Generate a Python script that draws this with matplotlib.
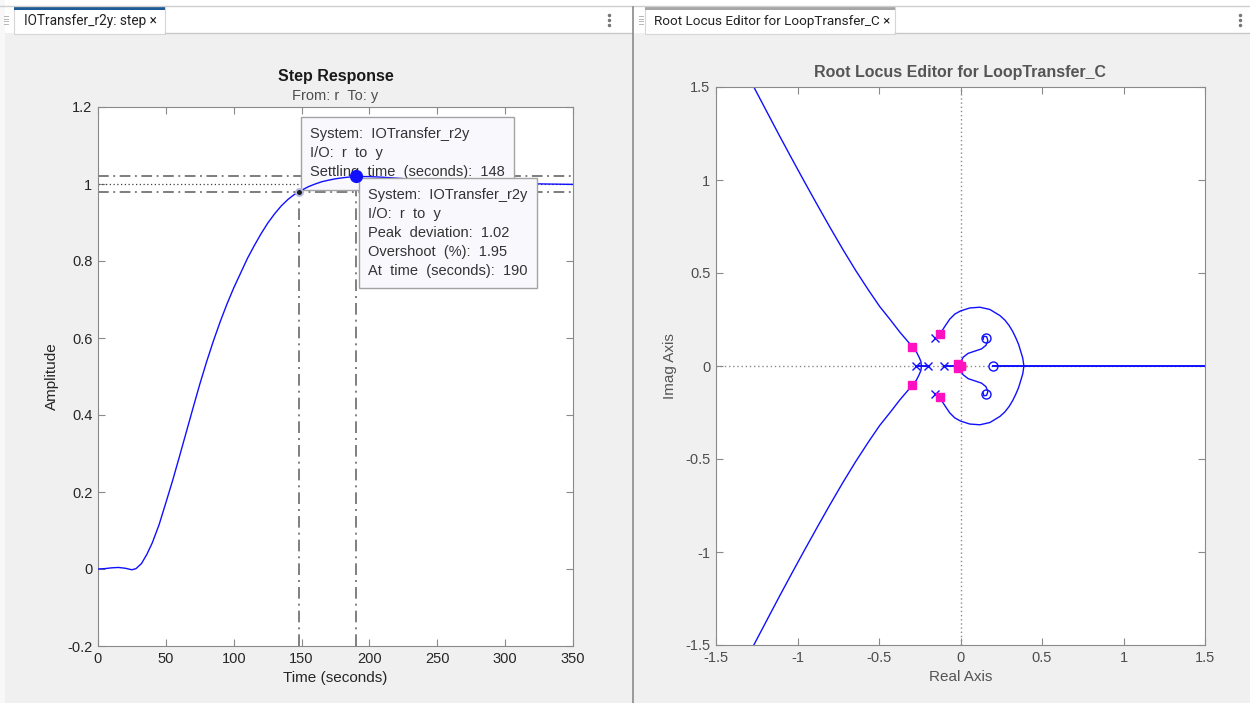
import matplotlib
matplotlib.use("Agg")
import matplotlib.pyplot as plt
from matplotlib.patches import Rectangle
from matplotlib.lines import Line2D
from matplotlib.ticker import FuncFormatter

# ---- step response of IOTransfer_r2y ----
step_t = [0, 5, 10, 15, 20, 25, 28, 32, 36, 40, 45, 50, 55, 60, 65, 70, 75,
          80, 85, 90, 95, 100, 105, 110, 115, 120, 125, 130, 135, 140, 144,
          148, 155, 160, 165, 170, 175, 180, 185, 190, 200, 210, 225, 240,
          270, 300, 330, 350]
step_y = [0.0, 0.001, 0.003, 0.004, 0.002, -0.002, 0.001, 0.014, 0.038,
          0.068, 0.115, 0.172, 0.230, 0.292, 0.355, 0.418, 0.480, 0.538,
          0.592, 0.642, 0.688, 0.730, 0.768, 0.806, 0.839, 0.870, 0.898,
          0.922, 0.943, 0.960, 0.971, 0.980, 0.993, 1.000, 1.006, 1.010,
          1.0135, 1.016, 1.018, 1.0195, 1.0192, 1.0175, 1.014, 1.010, 1.005,
          1.002, 1.000, 0.999]
settle_time, settle_amp = 148, 0.98
peak_time, peak_amp = 190, 1.0195
overshoot = 1.95
band_hi, band_lo, final_value = 1.02, 0.98, 1.0

# ---- root locus of LoopTransfer_C ----
# upper asymptotic branch (mirrored for the lower half)
asym_re = [-0.240, -0.243, -0.254, -0.270, -0.295, -0.333, -0.373, -0.432,
           -0.496, -0.566, -0.644, -0.724, -0.803, -0.881, -0.959, -1.035,
           -1.110, -1.190, -1.268]
asym_im = [0.0, 0.025, 0.047, 0.075, 0.103, 0.142, 0.183, 0.250, 0.320,
           0.410, 0.515, 0.630, 0.749, 0.870, 0.993, 1.115, 1.237, 1.370, 1.5]
# loop leaving the complex poles and closing on the real axis
loop_re = [-0.156, -0.127, -0.096, -0.066, -0.035, 0.0, 0.057, 0.119, 0.180,
           0.242, 0.272, 0.298, 0.320, 0.339, 0.356, 0.369, 0.382, 0.389]
loop_im = [0.148, 0.170, 0.213, 0.252, 0.279, 0.296, 0.312, 0.316, 0.304,
           0.271, 0.247, 0.218, 0.186, 0.152, 0.117, 0.080, 0.042, 0.0]
# branch from the origin into the complex zeros
hook_re = [0.0, 0.016, 0.047, 0.088, 0.129, 0.156, 0.168, 0.160, 0.143, 0.139]
hook_im = [0.018, 0.047, 0.068, 0.080, 0.092, 0.111, 0.137, 0.158, 0.160, 0.144]
# real-axis segments of the locus
real_segments = [(-0.274, -0.199), (-0.100, 0.0), (0.197, 1.5)]

pole_re = [-0.274, -0.199, -0.100, -0.156, -0.156]
pole_im = [0.0, 0.0, 0.0, 0.148, -0.148]
zero_re = [0.197, 0.154, 0.154]
zero_im = [0.0, 0.148, -0.148]
cl_re = [-0.295, -0.295, -0.127, -0.127, -0.015, -0.015, 0.0]
cl_im = [0.103, -0.101, 0.170, -0.166, 0.012, -0.012, 0.0]

W, H = 1250, 703
BLUE = "#1010ff"

plt.rcParams["font.family"] = ["Liberation Sans", "DejaVu Sans"]

fig = plt.figure(figsize=(W / 100, H / 100), dpi=100)
fig.patch.set_facecolor("#f0f0f0")


def fig_rect(x0, y0, x1, y1, **kw):
    r = Rectangle((x0 / W, 1 - y1 / H), (x1 - x0) / W, (y1 - y0) / H,
                  transform=fig.transFigure, **kw)
    fig.add_artist(r)
    return r


def fig_line(xs, ys, **kw):
    fig.add_artist(Line2D([x / W for x in xs], [1 - y / H for y in ys],
                          transform=fig.transFigure, **kw))


# document tab strip
fig_rect(0, 0, W, 33, facecolor="white", edgecolor="none")
fig_rect(0, 0, 5, H, facecolor="#f8f8f8", edgecolor="none")
fig_line([0, W], [6, 6], color="#cfcfcf", lw=1)
fig_line([165, 632], [33, 33], color="#c8c8c8", lw=1)
fig_line([895, W], [33, 33], color="#c8c8c8", lw=1)
fig_rect(14, 7, 165, 34, facecolor="white", edgecolor="#d6d6d6", lw=0.8)
fig_rect(14, 7, 165, 10, facecolor="#1f5b96", edgecolor="none")
fig_rect(645, 7, 895, 34, facecolor="white", edgecolor="#d6d6d6", lw=0.8)
fig_rect(645, 7, 895, 9.5, facecolor="#a6a6a6", edgecolor="none")
fig_line([633, 633], [7, H], color="#8a8a8a", lw=1.2)
for gx in (6, 641):
    for gy in (16, 18.5, 21, 23.5):
        fig_line([gx - 2, gx + 2], [gy, gy], color="#b5b5b5", lw=0.7)
for kx in (609, 1240):
    for ky in (15, 20, 25):
        fig_line([kx], [ky], marker="o", ms=1.5, color="#777777", lw=0)
fig.text(24 / W, 1 - 21 / H, "IOTransfer_r2y: step \u00d7", fontsize=9.8,
         family=["Roboto", "DejaVu Sans"], color="#222222", va="center")
fig.text(654 / W, 1 - 21 / H, "Root Locus Editor for LoopTransfer_C \u00d7",
         fontsize=9.7, family=["Roboto", "DejaVu Sans"], color="#222222",
         va="center")

fmt = FuncFormatter(lambda v, p: f"{v:g}")

# ---------------- step response ----------------
ax1 = fig.add_axes([98 / W, 1 - 646 / H, 475 / W, 539 / H])
ax1.set_xlim(0, 350)
ax1.set_ylim(-0.2, 1.2)
ax1.set_xticks(range(0, 351, 50))
ax1.set_yticks([-0.2, 0, 0.2, 0.4, 0.6, 0.8, 1.0, 1.2])
ax1.xaxis.set_major_formatter(fmt)
ax1.yaxis.set_major_formatter(fmt)
ax1.tick_params(direction="in", length=5, top=True, right=True,
                color="#8a8a8a", labelcolor="#262626", labelsize=10.5, pad=4)
for s in ax1.spines.values():
    s.set_color("#8a8a8a")

dashdot = (0, (7, 3, 1.2, 3))
ax1.axhline(band_hi, color="#5a5a5a", lw=1.1, ls=dashdot, zorder=2)
ax1.axhline(band_lo, color="#5a5a5a", lw=1.1, ls=dashdot, zorder=2)
ax1.axhline(final_value, color="#404040", lw=0.9, ls=(0, (1, 2)), zorder=2)
ax1.plot([settle_time, settle_time], [-0.2, settle_amp], color="#6a6a6a",
         lw=1.2, ls=dashdot, zorder=2)
ax1.plot([peak_time, peak_time], [-0.2, peak_amp], color="#6a6a6a",
         lw=1.2, ls=dashdot, zorder=2)
ax1.plot(step_t, step_y, color=BLUE, lw=1.0, zorder=4)

ax1.text(0.5, 1 + 31 / 539, "Step Response", transform=ax1.transAxes,
         ha="center", va="center", fontsize=11.5, fontweight="bold",
         color="#1a1a1a")
ax1.text(0.5, 1 + 11 / 539, "From: r  To: y", transform=ax1.transAxes,
         ha="center", va="center", fontsize=10.5, color="#4d4d4d")
ax1.set_xlabel("Time (seconds)", fontsize=11, color="#262626", labelpad=4)
ax1.set_ylabel("Amplitude", fontsize=11, color="#262626", labelpad=6)


def tip_box(ax, x0, y0, x1, y1, lines, tx, ty0, z):
    ax.add_patch(Rectangle((x0 / W, 1 - y1 / H), (x1 - x0) / W,
                           (y1 - y0) / H, transform=fig.transFigure,
                           facecolor="#f9f9fd", edgecolor="#a3a3a3", lw=1,
                           clip_on=False, zorder=z))
    for i, txt in enumerate(lines):
        ax.text(tx / W, 1 - (ty0 + 19.1 * i) / H, txt,
                transform=fig.transFigure, fontsize=10.5, color="#333333",
                va="center", ha="left", clip_on=False, zorder=z + 0.1)


tip_box(ax1, 301, 117, 514, 190,
        ["System:  IOTransfer_r2y", "I/O:  r  to  y",
         f"Settling  time  (seconds):  {settle_time:g}"],
        310, 134, 3)
tip_box(ax1, 359, 178, 537, 288,
        ["System:  IOTransfer_r2y", "I/O:  r  to  y",
         f"Peak  deviation:  {peak_amp:.2f}",
         f"Overshoot  (%):  {overshoot:g}",
         f"At  time  (seconds):  {peak_time:g}"],
        368, 194.5, 5)

ax1.plot([settle_time], [settle_amp], "o", ms=5, mfc="#1a1a1a",
         mec="#b4badc", mew=1.4, zorder=7, clip_on=False)
ax1.plot([peak_time], [peak_amp], "o", ms=8.5, color=BLUE, zorder=7,
         clip_on=False)

# ---------------- root locus ----------------
ax2 = fig.add_axes([716 / W, 1 - 645 / H, 489 / W, 558 / H])
ax2.set_xlim(-1.5, 1.5)
ax2.set_ylim(-1.5, 1.5)
ticks = [-1.5, -1, -0.5, 0, 0.5, 1, 1.5]
ax2.set_xticks(ticks)
ax2.set_yticks(ticks)
ax2.xaxis.set_major_formatter(fmt)
ax2.yaxis.set_major_formatter(fmt)
ax2.tick_params(direction="in", length=5, top=True, right=True,
                color="#8a8a8a", labelcolor="#4d4d4d", labelsize=10.5, pad=4)
for s in ax2.spines.values():
    s.set_color("#8a8a8a")

ax2.axhline(0, color="#8a8a8a", lw=1.0, ls=(0, (1, 2)), zorder=1)
ax2.axvline(0, color="#8a8a8a", lw=1.0, ls=(0, (1, 2)), zorder=1)

for sign in (1, -1):
    ax2.plot(asym_re, [sign * v for v in asym_im], color=BLUE, lw=1.0)
    ax2.plot(loop_re, [sign * v for v in loop_im], color=BLUE, lw=1.0)
    ax2.plot(hook_re, [sign * v for v in hook_im], color=BLUE, lw=1.0)
for a, b in real_segments:
    ax2.plot([a, b], [0, 0], color=BLUE, lw=1.4)

ax2.plot(pole_re, pole_im, "x", ms=5.5, mew=1.0, color=BLUE, zorder=5)
ax2.plot(zero_re, zero_im, "o", ms=6.5, mew=1.0, mfc="none", mec=BLUE,
         zorder=5)
ax2.plot(cl_re, cl_im, "s", ms=5.5, color="#ff10c0", zorder=6)
ax2.plot([0.012], [0], "o", ms=5, mfc="none", mec="#ff8080", mew=1.2,
         zorder=5)

ax2.text(0.5, 1 + 14 / 558, "Root Locus Editor for LoopTransfer_C",
         transform=ax2.transAxes, ha="center", va="center", fontsize=11.5,
         fontweight="bold", color="#555555")
ax2.set_xlabel("Real Axis", fontsize=11, color="#555555", labelpad=4)
ax2.set_ylabel("Imag Axis", fontsize=11, color="#555555", labelpad=6)

fig.savefig("out.png", dpi=100, facecolor=fig.get_facecolor())
